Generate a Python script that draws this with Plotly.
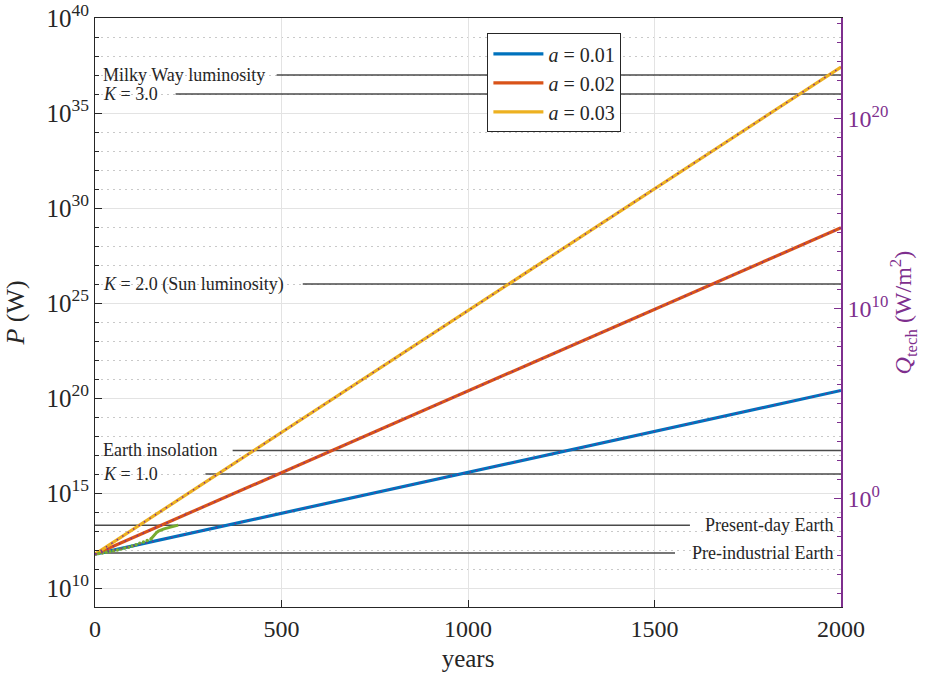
import math
import plotly.graph_objects as go

# ---------------- data ----------------
years_proj = [0, 500, 1000, 1500, 2000]
P_a001 = [6.0e11, 8.6e13, 1.23e16, 1.76e18, 2.5e20]
P_a002 = [6.0e11, 1.19e16, 2.34e20, 4.6e24, 9.1e28]
P_a003 = [6.0e11, 1.55e18, 3.98e24, 1.0e31, 2.63e37]
growth_labels = ["<i>a</i> = 0.01", "<i>a</i> = 0.02", "<i>a</i> = 0.03"]

years_hist_sparse = [0, 10, 20, 30, 40, 50, 60, 70, 80, 90, 100, 110, 120, 130, 140, 150]
P_hist_sparse = [6.0e11, 6.5e11, 6.9e11, 7.6e11, 8.3e11, 9.1e11, 1.0e12, 1.12e12, 1.26e12,
                 1.41e12, 1.62e12, 1.91e12, 2.24e12, 2.63e12, 3.16e12, 3.8e12]
years_hist_dense = [150, 155, 160, 165, 170, 175, 180, 185, 190, 195, 200, 205, 210, 215, 220, 223]
P_hist_dense = [3.8e12, 5.0e12, 6.6e12, 8.3e12, 9.8e12, 1.10e13, 1.20e13, 1.29e13, 1.38e13,
                1.48e13, 1.58e13, 1.66e13, 1.74e13, 1.86e13, 2.0e13, 2.04e13]

EARTH_AREA = 5.1e14  # m^2, converts P (W) to Q_tech (W/m^2)

ref_names = ["Milky Way luminosity", "<i>K</i> = 3.0", "<i>K</i> = 2.0 (Sun luminosity)",
             "Earth insolation", "<i>K</i> = 1.0", "Present-day Earth", "Pre-industrial Earth"]
ref_values = [1e37, 1e36, 1e26, 1.74e17, 1e16, 2e13, 7e11]
ref_label_side = ["left", "left", "left", "left", "left", "right", "right"]

left_tick_vals = [1e10, 1e15, 1e20, 1e25, 1e30, 1e35, 1e40]
left_tick_text = ["10<sup>10</sup>", "10<sup>15</sup>", "10<sup>20</sup>", "10<sup>25</sup>",
                  "10<sup>30</sup>", "10<sup>35</sup>", "10<sup>40</sup>"]
right_tick_vals = [1e0, 1e10, 1e20]
right_tick_text = ["10<sup>0</sup>", "10<sup>10</sup>", "10<sup>20</sup>"]
x_tick_vals = [0, 500, 1000, 1500, 2000]

# ---------------- style ----------------
FONT = "Liberation Serif, Times New Roman, serif"
COLORS = ["#0072BD", "#D95319", "#EDB120"]
GREEN = "#77AC30"
PURPLE = "#7E2F8E"
REF_COLOR = "#4a4a4a"
AXIS_COLOR = "#262626"
# gap left for each reference label (line extent in years)
ref_line_extent = [(487, 2000), (216, 2000), (557, 2000), (369, 2000), (296, 2000),
                   (0, 1595), (0, 1555)]

fig = go.Figure()

# reference lines
for name, val, ext in zip(ref_names, ref_values, ref_line_extent):
    fig.add_trace(go.Scatter(x=[ext[0], ext[1]], y=[val, val], mode="lines",
                             line=dict(color=REF_COLOR, width=1.4),
                             showlegend=False, hoverinfo="skip"))

# scenario lines
for P, col, lab in zip([P_a001, P_a002, P_a003], COLORS, growth_labels):
    fig.add_trace(go.Scatter(x=years_proj, y=P, mode="lines", name=lab,
                             line=dict(color=col, width=3.2)))

# historical
fig.add_trace(go.Scatter(x=years_hist_sparse, y=P_hist_sparse, mode="markers",
                         marker=dict(color=GREEN, size=3.5), showlegend=False))
fig.add_trace(go.Scatter(x=years_hist_dense, y=P_hist_dense, mode="lines",
                         line=dict(color=GREEN, width=3), showlegend=False))

# Q_tech on right axis (dotted purple overlays)
for P in [P_a001, P_a002, P_a003]:
    fig.add_trace(go.Scatter(x=years_proj, y=[p / EARTH_AREA for p in P], mode="lines",
                             yaxis="y2", showlegend=False, hoverinfo="skip",
                             line=dict(color=PURPLE, width=1.5, dash="1.5px,5px")))

# labels of reference lines
annotations = []
for name, val, side in zip(ref_names, ref_values, ref_label_side):
    if side == "left":
        annotations.append(dict(x=0, y=math.log10(val), xref="x", yref="y", text=name,
                                showarrow=False, xanchor="left", yanchor="middle", xshift=6,
                                font=dict(family=FONT, size=18, color="#262626")))
    else:
        annotations.append(dict(x=2000, y=math.log10(val), xref="x", yref="y", text=name,
                                showarrow=False, xanchor="right", yanchor="middle", xshift=-6,
                                font=dict(family=FONT, size=18, color="#262626")))

# right axis title as annotation (kept inside the page)
annotations.append(dict(x=1.083, y=0.5, xref="paper", yref="paper", textangle=-90,
                        text="<i>Q</i><sub>tech</sub> (W/m<sup>2</sup>)", showarrow=False,
                        xanchor="center", yanchor="middle",
                        font=dict(family=FONT, size=24, color=PURPLE)))

shift = math.log10(EARTH_AREA)
fig.update_layout(
    width=927, height=679,
    margin=dict(l=95, r=86, t=18, b=72, autoexpand=False),
    paper_bgcolor="white", plot_bgcolor="white",
    font=dict(family=FONT, color=AXIS_COLOR, size=22),
    annotations=annotations,
    legend=dict(x=0.526, y=0.974, xanchor="left", yanchor="top",
                bgcolor="white", bordercolor=AXIS_COLOR, borderwidth=1,
                font=dict(family=FONT, size=20), itemwidth=50),
    xaxis=dict(range=[0, 2000], tickvals=x_tick_vals, ticks="inside", ticklen=7,
               tickcolor=AXIS_COLOR, showline=True, linecolor=AXIS_COLOR, linewidth=1,
               mirror=True, showgrid=True, gridcolor="#e3e3e3", zeroline=False,
               automargin=False, tickfont=dict(size=24),
               title=dict(text="years", font=dict(size=25), standoff=8)),
    yaxis=dict(type="log", range=[9, 40], tickvals=left_tick_vals, ticktext=left_tick_text,
               ticks="inside", ticklen=7, tickcolor=AXIS_COLOR, showline=True,
               linecolor=AXIS_COLOR, linewidth=1, showgrid=True, gridcolor="#e3e3e3",
               zeroline=False, automargin=False, tickfont=dict(size=25),
               ticklabeloverflow="allow",
               minor=dict(tickvals=[10.0 ** k for k in range(9, 41) if k % 5 != 0],
                          ticks="inside", ticklen=4, tickcolor=AXIS_COLOR,
                          showgrid=True, gridcolor="#c9c9c9", griddash="2px,4px"),
               title=dict(text="<i>P</i> (W)", font=dict(size=26), standoff=14)),
    yaxis2=dict(type="log", overlaying="y", side="right",
                range=[9 - shift, 40 - shift], tickvals=right_tick_vals, ticktext=right_tick_text,
                ticks="inside", ticklen=7, tickcolor=PURPLE, showline=True, linecolor=PURPLE,
                linewidth=1.5, showgrid=False, zeroline=False, automargin=False,
                tickfont=dict(size=24, color=PURPLE),
                minor=dict(tickvals=[10.0 ** k for k in range(-5, 26) if k % 10 != 0],
                           ticks="inside", ticklen=4, tickcolor=PURPLE, showgrid=False)),
)

fig.write_html("out.html", config={"displayModeBar": False},
               post_script="document.body.style.margin='0';document.body.style.overflow='hidden';")
